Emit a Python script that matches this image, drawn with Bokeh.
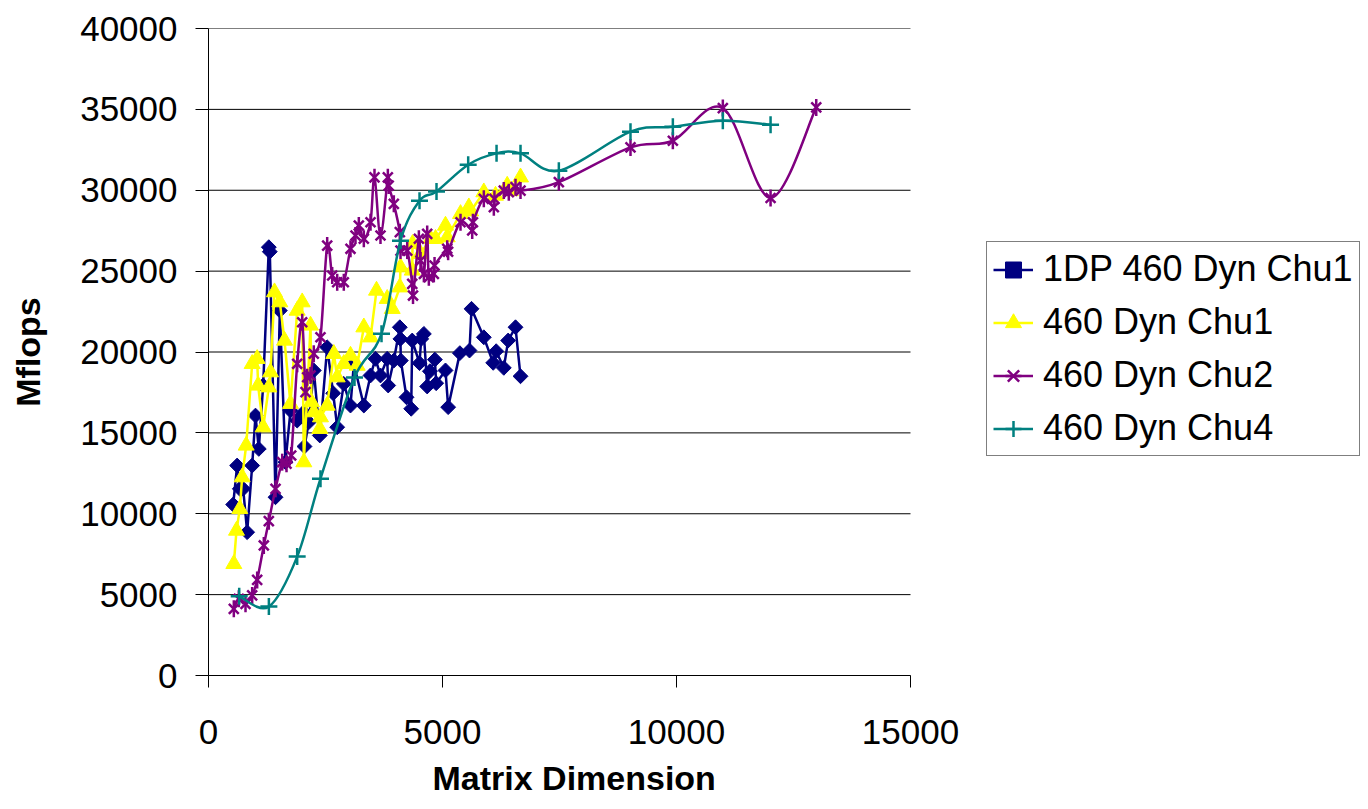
import numpy as np
from bokeh.plotting import figure
from bokeh.models import Legend, LegendItem, FixedTicker, Title
from bokeh.embed import file_html
from bokeh.resources import INLINE

FONT = "Liberation Sans"

# ---- data ----
dp_x = [527, 612, 669, 741, 826, 933, 1004, 1075, 1168, 1289, 1310, 1432, 1524, 1645, 1752,
        1895, 1970, 2037, 2051, 2143, 2250, 2378, 2536, 2664, 2750, 2891, 3034, 3106, 3319,
        3462, 3568, 3675, 3818, 3840, 3960, 4088, 4100, 4110, 4231, 4331, 4353, 4509, 4545,
        4602, 4673, 4730, 4837, 4865, 5064, 5121, 5371, 5577, 5620, 5883, 6083, 6147, 6310,
        6403, 6560, 6667]
dp_y = [10570, 12980, 11540, 11540, 8860, 12980, 16070, 14010, 17930, 26480, 26200, 11020,
        22560, 13190, 16380, 15760, 16000, 16280, 14160, 15660, 18860, 14840, 20290, 17450,
        15350, 18030, 16690, 19270, 16690, 18550, 19580, 18550, 19580, 17930, 19470, 21530,
        20810, 19470, 17200, 16490, 20710, 19310, 20810, 21120, 17870, 18810, 19530, 18070,
        18860, 16590, 19930, 20090, 22670, 20910, 19330, 20050, 19020, 20710, 21530, 18500]

c1_x = [541, 598, 669, 719, 805, 933, 1040, 1060, 1168, 1289, 1325, 1410, 1524, 1624, 1752,
        1895, 2002, 2037, 2180, 2200, 2250, 2378, 2393, 2536, 2678, 2750, 2891, 3034, 3177,
        3319, 3462, 3590, 3818, 3925, 4088, 4103, 4353, 4360, 4530, 4744, 4851, 5064, 5101,
        5385, 5563, 5600, 5883, 6133, 6383, 6450, 6667]
c1_y = [6900, 8960, 10300, 12260, 14220, 19270, 19580, 17930, 15350, 17820, 18750, 23700,
        23080, 20710, 16800, 22560, 23080, 13190, 21640, 16900, 16280, 15250, 15970, 16690,
        19890, 18440, 19270, 19780, 19160, 21530, 20910, 23800, 23290, 22670, 24000, 25240,
        25040, 26690, 26070, 27000, 27000, 27820, 27100, 28540, 28950, 28700, 29880, 29670,
        30290, 29950, 30800]

c2_x = [541, 648, 791, 933, 1040, 1182, 1289, 1432, 1575, 1667, 1767, 1895, 2002, 2073, 2109,
        2180, 2250, 2393, 2536, 2643, 2750, 2891, 3034, 3141, 3212, 3319, 3462, 3547, 3675,
        3832, 3850, 3960, 4088, 4103, 4246, 4353, 4370, 4495, 4530, 4602, 4673, 4708, 4815,
        4830, 5101, 5120, 5385, 5635, 5650, 5883, 6097, 6110, 6310, 6417, 6560, 6667, 7486,
        9017, 9922, 10990, 12010, 12986]
c2_y = [4120, 4740, 4430, 4950, 5910, 8040, 9540, 11540, 13190, 13090, 13600, 19270, 21840,
        17520, 18440, 18550, 19890, 20910, 26580, 24730, 24310, 24310, 26380, 27200, 27820,
        27000, 28020, 30800, 27200, 30800, 30290, 29160, 27410, 26270, 26270, 24210, 23490,
        27000, 25650, 24830, 27300, 24620, 24830, 25350, 26380, 26200, 28020, 27510, 28020,
        29470, 28950, 29470, 29980, 29880, 30190, 29980, 30500, 32650, 33060, 35080, 29520,
        35120]

c4_x = [656, 1290, 1895, 2393, 3120, 3697, 4103, 4509, 4872, 5549, 6155, 6667, 7486, 9017,
        9922, 10990, 12010]
c4_y = [4900, 4260, 7350, 12170, 18430, 21130, 26880, 29350, 29930, 31580, 32280, 32280,
        31210, 33620, 33930, 34300, 34050]

series_names = ["1DP 460 Dyn Chu1", "460 Dyn Chu1", "460 Dyn Chu2", "460 Dyn Chu4"]
x_ticks = [0, 5000, 10000, 15000]
y_ticks = [0, 5000, 10000, 15000, 20000, 25000, 30000, 35000, 40000]
x_title = "Matrix Dimension"
y_title = "Mflops"

NAVY, YELLOW, PURPLE, TEAL = "#000080", "#FFFF00", "#800080", "#008080"

# layout (pixels)
W, H = 1368, 809
LEFT, TOP, BOTTOM = 208, 28, 134
AXIS_PX = 702          # on-screen length of the 0..15000 x axis
X_END = x_ticks[-1] * (W - LEFT) / AXIS_PX   # frame runs to the right edge


def smooth(xs, ys):
    """Bezier control points for Excel-like smoothed lines (Catmull-Rom)."""
    xs = np.asarray(xs, float)
    ys = np.asarray(ys, float)
    n = len(xs)
    i = np.arange(n - 1)
    im = np.maximum(i - 1, 0)
    ip = np.minimum(i + 2, n - 1)
    cx0 = xs[i] + (xs[i + 1] - xs[im]) / 6
    cy0 = ys[i] + (ys[i + 1] - ys[im]) / 6
    cx1 = xs[i + 1] - (xs[ip] - xs[i]) / 6
    cy1 = ys[i + 1] - (ys[ip] - ys[i]) / 6
    return dict(x0=xs[i], y0=ys[i], x1=xs[i + 1], y1=ys[i + 1],
                cx0=cx0, cy0=cy0, cx1=cx1, cy1=cy1)


p = figure(width=W, height=H, x_range=(0, X_END), y_range=(0, y_ticks[-1]),
           output_backend="svg", toolbar_location=None,
           min_border_left=LEFT, min_border_right=0, min_border_top=TOP,
           min_border_bottom=BOTTOM)
p.background_fill_color = "white"
p.border_fill_color = "white"
p.outline_line_color = None

# horizontal gridlines limited to the x-axis extent
p.segment(x0=[x_ticks[0]] * len(y_ticks), x1=[x_ticks[-1]] * len(y_ticks),
          y0=y_ticks, y1=y_ticks, line_color="black", line_width=1)

LW = 2.5
# series 1: navy diamonds, straight line
l1 = p.line(dp_x, dp_y, line_color=NAVY, line_width=LW)
m1 = p.scatter(dp_x, dp_y, marker="square", angle=np.pi / 4, size=10.5,
               fill_color=NAVY, line_color=NAVY)
# series 2: yellow triangles, straight line
l2 = p.line(c1_x, c1_y, line_color=YELLOW, line_width=LW)
m2 = p.scatter(c1_x, c1_y, marker="triangle", size=16, fill_color=YELLOW, line_color=YELLOW)
# series 3: purple stars, smoothed
l3 = p.bezier(line_color=PURPLE, line_width=LW, **smooth(c2_x, c2_y))
m3a = p.scatter(c2_x, c2_y, marker="x", size=14, line_color=PURPLE, line_width=2.5)
m3b = p.scatter(c2_x, c2_y, marker="dash", angle=np.pi / 2, size=17, line_color=PURPLE,
                line_width=2.5)
# series 4: teal crosses, smoothed
l4 = p.bezier(line_color=TEAL, line_width=LW, **smooth(c4_x, c4_y))
m4 = p.scatter(c4_x, c4_y, marker="cross", size=17, line_color=TEAL, line_width=2.5)

# axes
p.xaxis.ticker = FixedTicker(ticks=x_ticks)
p.yaxis.ticker = FixedTicker(ticks=y_ticks)
p.xaxis.bounds = (x_ticks[0], x_ticks[-1])
for ax in (p.xaxis, p.yaxis):
    ax.minor_tick_line_color = None
    ax.major_tick_in = 0
    ax.axis_line_color = "black"
    ax.major_tick_line_color = "black"
    ax.major_label_text_font = FONT
    ax.major_label_text_font_size = "35px"
    ax.major_label_text_color = "black"
    ax.axis_label_text_font = FONT
    ax.axis_label_text_font_size = "34px"
    ax.axis_label_text_font_style = "bold"
    ax.axis_label_text_color = "black"
p.xaxis.major_tick_out = 12
p.yaxis.major_tick_out = 13
p.xaxis.major_label_standoff = 32
p.yaxis.major_label_standoff = 18
p.yaxis.axis_label = y_title
p.yaxis.axis_label_standoff = 30

# x-axis title as a below-panel title, centred under the 0..15000 axis
xt = Title(text=x_title, align="left", offset=224, standoff=20,
           text_font=FONT, text_font_size="34px", text_font_style="bold",
           text_color="black")
p.add_layout(xt, "below")

p.xgrid.grid_line_color = None
p.ygrid.grid_line_color = None

legend = Legend(items=[
    LegendItem(label=series_names[0], renderers=[l1, m1]),
    LegendItem(label=series_names[1], renderers=[l2, m2]),
    LegendItem(label=series_names[2], renderers=[l3, m3a, m3b]),
    LegendItem(label=series_names[3], renderers=[l4, m4]),
], location=(986 - LEFT, 219))
legend.margin = 0
legend.padding = 6
legend.spacing = 11
legend.label_height = 41
legend.glyph_height = 41
legend.glyph_width = 40
legend.label_standoff = 10
legend.label_text_font = FONT
legend.label_text_font_size = "36px"
legend.label_text_color = "black"
legend.border_line_color = "black"
legend.border_line_width = 1
legend.background_fill_color = "white"
legend.background_fill_alpha = 1
p.add_layout(legend)

open("out.html", "w").write(file_html(p, INLINE))
